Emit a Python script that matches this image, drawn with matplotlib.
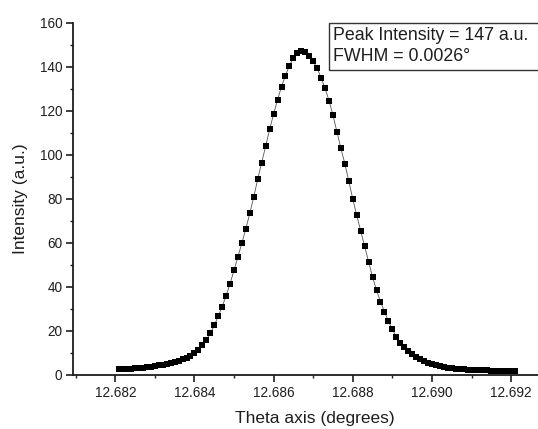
import numpy as np
import matplotlib
matplotlib.use("Agg")
import matplotlib.pyplot as plt
from matplotlib.patches import Rectangle
from matplotlib.ticker import MultipleLocator, FormatStrFormatter

plt.rcParams['font.family'] = ['Liberation Sans', 'DejaVu Sans']

# Scan grid (degrees): first / last sample, evenly stepped by 0.0001
theta_first = 12.6821
theta_last = 12.6921
n_points = 101
theta = np.linspace(theta_first, theta_last, n_points)

# Intensity (a.u.)
intensity = [
    2.5, 2.6, 2.7, 2.9, 3.0, 3.2, 3.4, 3.6, 3.8, 4.1,
    4.4, 4.7, 5.0, 5.4, 5.9, 6.5, 7.1, 7.8, 8.7, 9.9,
    11.4, 13.4, 15.9, 18.9, 22.5, 26.6, 31.0, 36.0, 41.5, 47.5,
    53.8, 60.0, 66.5, 73.5, 81.0, 89.0, 96.5, 104.0, 111.5, 118.5,
    125.0, 131.0, 136.0, 140.5, 144.0, 146.2, 147.3, 146.5, 144.8, 142.5,
    139.3, 135.0, 130.2, 124.6, 118.0, 110.5, 103.0, 96.0, 88.0, 80.0,
    72.5, 65.5, 58.5, 51.5, 44.5, 38.5, 33.3, 28.8, 24.5, 20.7,
    17.4, 14.7, 12.6, 10.9, 9.4, 8.2, 7.1, 6.2, 5.5, 4.9,
    4.4, 4.0, 3.6, 3.3, 3.05, 2.85, 2.7, 2.55, 2.45, 2.35,
    2.25, 2.2, 2.1, 2.05, 2.0, 1.95, 1.9, 1.85, 1.8, 1.75,
    1.7,
]

x_ticks = [12.682, 12.684, 12.686, 12.688, 12.690, 12.692]
y_ticks = [0, 20, 40, 60, 80, 100, 120, 140, 160]
annotation_lines = ["Peak Intensity = 147 a.u.", "FWHM = 0.0026°"]

W, H = 538, 429
fig = plt.figure(figsize=(W / 100, H / 100), dpi=100)
ax_left, ax_right = 73.3 / W, 1.0
ax_bottom, ax_top = 1 - 375.0 / H, 1 - 22.7 / H
ax = fig.add_axes([ax_left, ax_bottom, ax_right - ax_left, ax_top - ax_bottom])

ink = '#1e1e1e'
ax.plot(theta, intensity, '-', color='#555555', lw=0.6, zorder=2)
ax.plot(theta, intensity, 's', color='black', ms=5.0, mec='black', mew=0, zorder=3)

ax.set_xlim(12.68094, 12.69268)
ax.set_ylim(0, 160)
ax.set_xticks(x_ticks)
ax.set_yticks(y_ticks)
ax.xaxis.set_major_formatter(FormatStrFormatter('%.3f'))
ax.xaxis.set_minor_locator(MultipleLocator(0.001))
ax.yaxis.set_minor_locator(MultipleLocator(10))

for side in ['top', 'right']:
    ax.spines[side].set_visible(False)
for side in ['left', 'bottom']:
    ax.spines[side].set_color(ink)
    ax.spines[side].set_linewidth(1.3)

ax.tick_params(which='major', direction='out', length=4.8, width=1.2,
               colors=ink, labelsize=9.8, pad=3)
ax.tick_params(which='minor', direction='out', length=2.4, width=1.0, colors=ink)

ax.set_xlabel('Theta axis (degrees)', fontsize=12.5, color=ink)
ax.set_ylabel('Intensity (a.u.)', fontsize=12.5, color=ink)
ax.xaxis.set_label_coords((315 - 73.3) / (W - 73.3), -(419 - 375) / (375 - 22.7))
ax.xaxis.label.set_verticalalignment('center')
ax.yaxis.set_label_coords(-(73.3 - 21) / (W - 73.3), 0.5)
ax.yaxis.label.set_verticalalignment('center')

# annotation box (figure pixel geometry); right edge runs off the picture
bx0, bx1 = 329.3 / W, 548.0 / W
by0, by1 = 1 - 70.0 / H, 1 - 22.5 / H
fig.patches.append(Rectangle((bx0, by0), bx1 - bx0, by1 - by0, transform=fig.transFigure,
                             fill=True, facecolor='white', edgecolor='#333333', lw=1.0, zorder=5))
fig.text(332.7 / W, 1 - 35.5 / H, annotation_lines[0], fontsize=12.8, color=ink,
         ha='left', va='center', zorder=6)
fig.text(332.7 / W, 1 - 56.7 / H, annotation_lines[1], fontsize=12.8, color=ink,
         ha='left', va='center', zorder=6)

fig.savefig('out.png', dpi=100)
